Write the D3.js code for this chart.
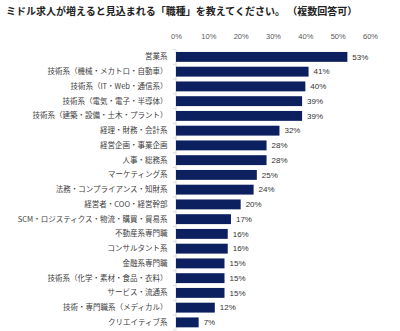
<!DOCTYPE html>
<html><head><meta charset="utf-8">
<script src="https://cdn.jsdelivr.net/npm/d3@7"></script>
<style>body{margin:0;background:#fff;}svg{display:block;}</style>
</head><body>
<svg id="c" width="400" height="331"></svg>
<script>
const title = "ミドル求人が増えると見込まれる「職種」を教えてください。 （複数回答可）";
const categories = ["営業系","技術系（機械・メカトロ・自動車）","技術系（IT・Web・通信系）","技術系（電気・電子・半導体）","技術系（建築・設備・土木・プラント）","経理・財務・会計系","経営企画・事業企画","人事・総務系","マーケティング系","法務・コンプライアンス・知財系","経営者・COO・経営幹部","SCM・ロジスティクス・物流・購買・貿易系","不動産系専門職","コンサルタント系","金融系専門職","技術系（化学・素材・食品・衣料）","サービス・流通系","技術・専門職系（メディカル）","クリエイティブ系"];
const values = [53,41,40,39,39,32,28,28,25,24,20,17,16,16,15,15,15,12,7];
const ticks = [0,10,20,30,40,50,60];

const svg = d3.select("#c");
const jp = "'Noto Sans CJK JP', sans-serif";
const x = d3.scaleLinear().domain([0,60]).range([176,370]);
const y = d3.scaleBand().domain(categories).range([49.6,329.7]).paddingInner(0.33).paddingOuter(0.16);

svg.append("text").attr("x",6).attr("y",15).attr("font-family",jp).attr("font-weight","bold")
  .attr("font-size",10).attr("fill","#222").attr("xml:space","preserve").style("white-space","pre").text(title);

const xAxis = svg.append("g").attr("transform","translate(0,36)")
  .call(d3.axisTop(x).tickValues(ticks).tickFormat(d=>d+"%").tickSize(0));
xAxis.select(".domain").remove();
xAxis.selectAll("text").attr("font-family","'Liberation Sans', sans-serif").attr("font-size",7.5).attr("fill","#595959").attr("dy","0.35em").attr("y",0);

const yAxis = svg.append("g").attr("transform","translate(175.5,0)")
  .call(d3.axisLeft(y).tickSize(0).tickPadding(8));
yAxis.select(".domain").attr("stroke","#d9d9d9");
yAxis.selectAll("text").attr("font-family",jp).attr("font-size",7.5).attr("fill","#404040");
const bounds = categories.map(c=>y(c)-y.step()*y.paddingInner()/2).concat([y(categories[categories.length-1])+y.bandwidth()+y.step()*y.paddingInner()/2]);
svg.append("g").selectAll("line").data(bounds).join("line")
  .attr("x1",173).attr("x2",175.5).attr("y1",d=>d).attr("y2",d=>d).attr("stroke","#d9d9d9");

svg.append("g").selectAll("rect").data(values).join("rect")
  .attr("x",x(0)).attr("y",(d,i)=>y(categories[i]))
  .attr("width",d=>x(d)-x(0)).attr("height",y.bandwidth())
  .attr("fill","#0c1f5e");

svg.append("g").selectAll("text").data(values).join("text")
  .attr("x",d=>x(d)+5).attr("y",(d,i)=>y(categories[i])+y.bandwidth()/2)
  .attr("dy","0.35em").attr("font-family","'Liberation Sans', sans-serif").attr("font-size",8)
  .attr("fill","#333").text(d=>d+"%");
</script>
</body></html>
